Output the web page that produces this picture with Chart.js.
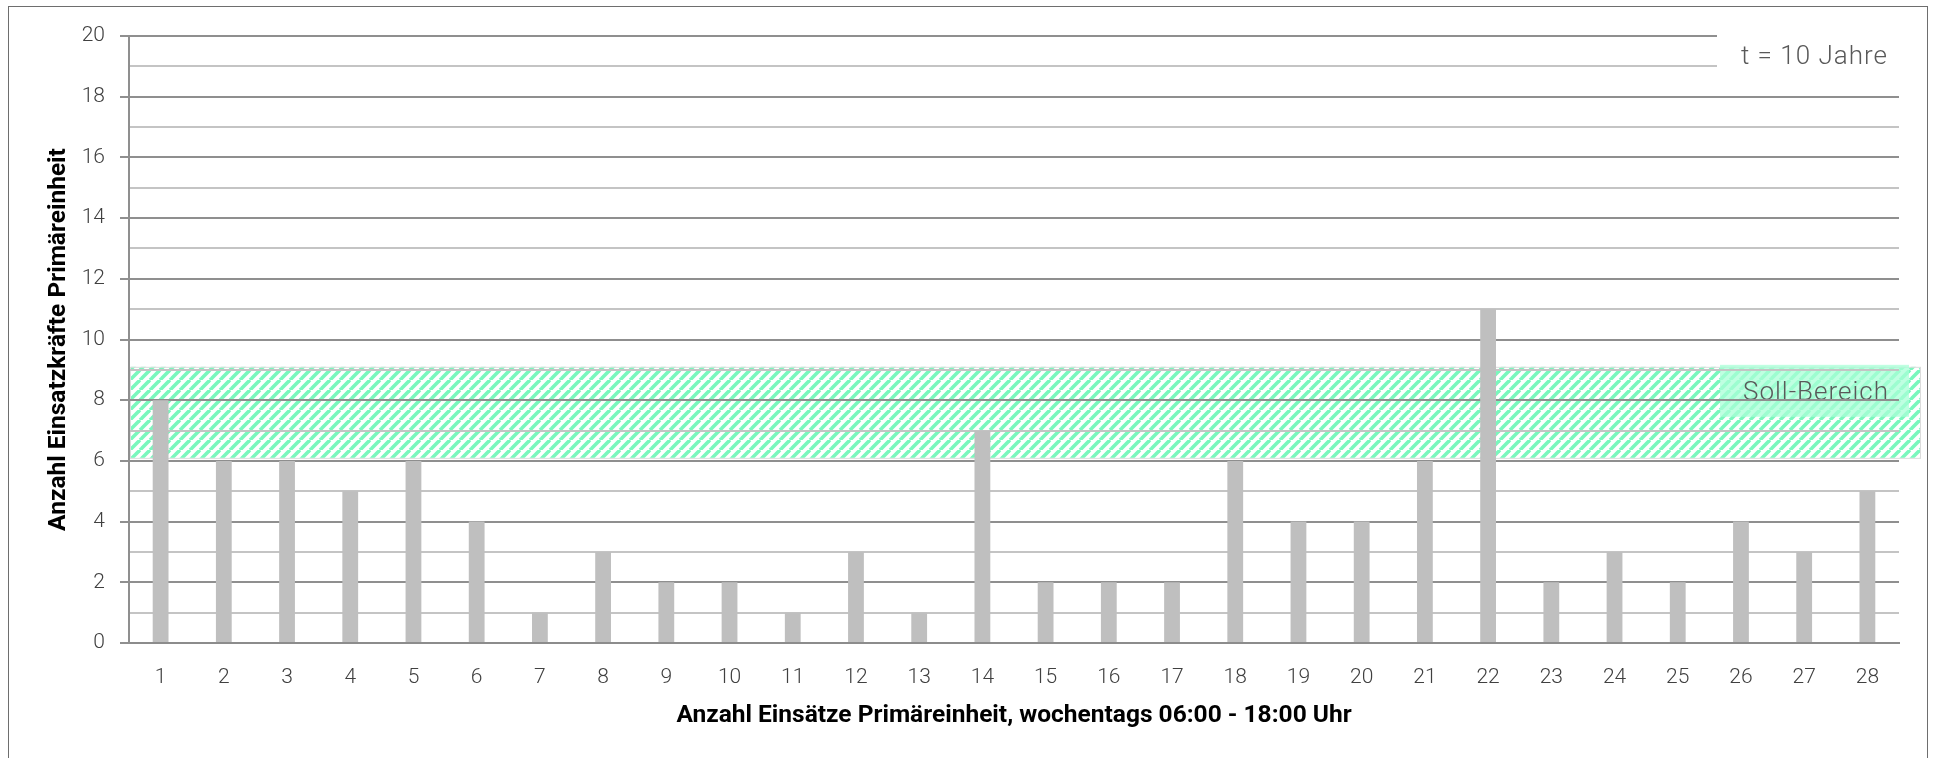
<!DOCTYPE html>
<html>
<head>
<meta charset="utf-8">
<script src="https://cdn.jsdelivr.net/npm/chart.js@4.4.1/dist/chart.umd.min.js"></script>
<style>
  html, body { margin: 0; padding: 0; background: #fff; }
  canvas { display: block; }
</style>
</head>
<body>
<canvas id="chart" width="1935" height="758"></canvas>
<script>
const categories = ['1','2','3','4','5','6','7','8','9','10','11','12','13','14',
                    '15','16','17','18','19','20','21','22','23','24','25','26','27','28'];
const einsatzkraefte = [8,6,6,5,6,4,1,3,2,2,1,3,1,7,2,2,2,6,4,4,6,11,2,3,2,4,3,5];
const yMin = 0;
const yMax = 20;
const sollMin = 6.1;
const sollMax = 9.1;
const sollLabel = 'Soll-Bereich';
const periodLabel = 't = 10 Jahre';
const xTitle = 'Anzahl Einsätze Primäreinheit, wochentags 06:00 - 18:00 Uhr';
const yTitle = 'Anzahl Einsatzkräfte Primäreinheit';

const FONT = 'Roboto';

function stripePattern(ctx) {
  const p = 10;
  const c = document.createElement('canvas');
  c.width = p; c.height = p;
  const g = c.getContext('2d');
  g.strokeStyle = '#7af7bd';
  g.lineWidth = 3.6;
  [-p, 0, p].forEach(function (x0) {
    g.beginPath();
    g.moveTo(x0, p);
    g.lineTo(x0 + p, 0);
    g.stroke();
  });
  return ctx.createPattern(c, 'repeat');
}

const decorations = {
  id: 'decorations',
  beforeDraw(chart) {
    const ctx = chart.ctx;
    const area = chart.chartArea;
    const y = chart.scales.y;
    const top = y.getPixelForValue(sollMax);
    const bottom = y.getPixelForValue(sollMin);
    ctx.save();
    // band
    ctx.fillStyle = stripePattern(ctx);
    ctx.fillRect(area.left + 1, top, area.right + 21 - area.left, bottom - top);
    ctx.strokeStyle = '#dcdcdc';
    ctx.lineWidth = 1;
    ctx.strokeRect(area.left + 1.5, top + 0.5, area.right + 20 - area.left, bottom - top);
    // label box
    ctx.fillStyle = 'rgba(170, 255, 215, 0.75)';
    ctx.fillRect(area.right - 179, top - 2, 189, 52);
    ctx.fillStyle = '#595959';
    ctx.font = '300 26px ' + FONT;
    ctx.letterSpacing = '1px';
    ctx.textAlign = 'right';
    ctx.textBaseline = 'middle';
    ctx.fillText(sollLabel, area.right - 10, top + 27);
    ctx.restore();
  },
  afterDraw(chart) {
    const ctx = chart.ctx;
    const area = chart.chartArea;
    const y = chart.scales.y;
    ctx.save();
    // period box over the top grid lines
    const t20 = y.getPixelForValue(20);
    const t19 = y.getPixelForValue(19);
    ctx.fillStyle = '#fff';
    ctx.fillRect(area.right - 182, t20 - 4, 190, t19 - t20 + 8);
    ctx.fillStyle = '#595959';
    ctx.font = '300 26px ' + FONT;
    ctx.letterSpacing = '1px';
    ctx.textAlign = 'right';
    ctx.textBaseline = 'middle';
    ctx.fillText(periodLabel, area.right - 11, (t20 + t19) / 2 + 6);
    ctx.restore();
    // outer frame
    ctx.save();
    ctx.strokeStyle = '#6e6e6e';
    ctx.lineWidth = 1;
    ctx.strokeRect(8.5, 6.5, 1919, 780);
    ctx.restore();
  }
};

new Chart(document.getElementById('chart'), {
  type: 'bar',
  data: {
    labels: categories,
    datasets: [{
      label: yTitle,
      data: einsatzkraefte,
      backgroundColor: '#bfbfbf',
      borderWidth: 0,
      barPercentage: 0.25,
      categoryPercentage: 1
    }]
  },
  options: {
    responsive: false,
    animation: false,
    devicePixelRatio: 1,
    layout: {
      padding: { left: 0, top: 36, right: 36, bottom: 0 }
    },
    plugins: {
      legend: { display: false },
      tooltip: { enabled: false }
    },
    scales: {
      x: {
        grid: { display: false, drawTicks: false },
        border: { color: '#8c8c8c', width: 2 },
        ticks: {
          color: '#404040',
          padding: 22,
          maxRotation: 0,
          font: { family: FONT, size: 21, weight: '300' }
        },
        title: {
          display: true,
          text: xTitle,
          color: '#000',
          padding: { top: 0, bottom: 27 },
          font: { family: FONT, size: 24.5, weight: 'bold' }
        },
        afterFit(scale) { scale.height = 115; }
      },
      y: {
        min: yMin,
        max: yMax,
        grid: {
          color: ctx => ctx.tick && ctx.tick.value % 2 === 0 ? '#8f8f8f' : '#c4c4c4',
          tickColor: ctx => ctx.tick && ctx.tick.value % 2 === 0 ? '#8f8f8f' : 'rgba(0,0,0,0)',
          lineWidth: 2,
          tickLength: 9
        },
        border: { color: '#8f8f8f', width: 2 },
        ticks: {
          stepSize: 1,
          color: '#404040',
          padding: 15,
          font: { family: FONT, size: 21, weight: '300' },
          callback: v => v % 2 === 0 ? v : ''
        },
        title: {
          display: true,
          text: yTitle,
          color: '#000',
          padding: { top: 44, bottom: 0 },
          font: { family: FONT, size: 24.5, weight: 'bold' }
        },
        afterFit(scale) { scale.width = 129; }
      }
    }
  },
  plugins: [decorations]
});
</script>
</body>
</html>
